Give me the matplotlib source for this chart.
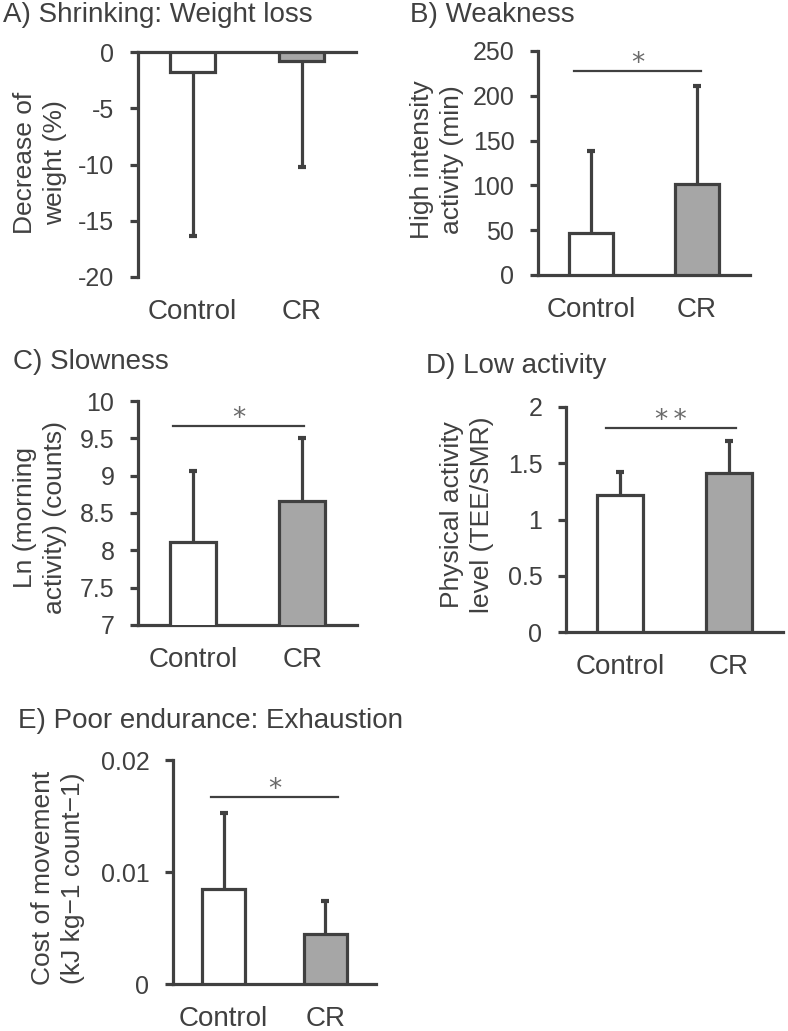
import matplotlib
matplotlib.use("Agg")
import matplotlib.pyplot as plt
from matplotlib.ticker import FormatStrFormatter

plt.rcParams['font.family'] = ['Liberation Sans', 'DejaVu Sans']
plt.rcParams['axes.unicode_minus'] = False

DARK = '#404040'
GREY = '#a6a6a6'

groups = ['Control', 'CR']

# A) weight loss (%)
weight_loss = [-1.8, -0.8]
weight_loss_sd = [14.6, 9.4]
# B) high intensity activity (min)
high_activity = [47, 102]
high_activity_sd = [91, 109]
# C) Ln(morning activity)
morning_activity = [8.11, 8.66]
morning_activity_sd = [0.95, 0.85]
# D) physical activity level
pal = [1.22, 1.41]
pal_sd = [0.20, 0.29]
# E) cost of movement
cost = [0.0085, 0.0045]
cost_sd = [0.0068, 0.0029]

W, H = 788, 1031
fig = plt.figure(figsize=(W / 100, H / 100), dpi=100)


def box(left, top, right, bottom):
  return [left / W, 1 - bottom / H, (right - left) / W, (bottom - top) / H]


def panel(rect, vals, sds, ylim, yticks, fmt, title, title_xy, ylabel, ylabel_xy,
          sig=None, down=False):
  ax = fig.add_axes(rect)
  x = [0, 1]
  ax.bar(x, vals, width=0.42, color=['white', GREY], edgecolor=DARK,
         linewidth=2.3, zorder=3)
  # one-sided error bars, cap only at the far end
  sign = -1 if down else 1
  ends = [v + sign * s for v, s in zip(vals, sds)]
  ax.vlines(x, vals, ends, color=DARK, linewidth=2.3, zorder=2)
  ax.plot(x, ends, linestyle='none', marker='_', markersize=6,
          markeredgewidth=3, color=DARK, zorder=2)
  ax.set_xlim(-0.5, 1.5)
  ax.set_ylim(*ylim)
  ax.set_yticks(yticks)
  ax.yaxis.set_major_formatter(FormatStrFormatter(fmt))
  ax.set_xticks(x)
  ax.set_xticklabels(groups, fontsize=20, color=DARK)
  for s in ['right', 'top', 'bottom']:
    ax.spines[s].set_visible(False)
  base = 'top' if down else 'bottom'
  ax.spines[base].set_visible(True)
  ax.spines[base].set_color(DARK)
  ax.spines[base].set_linewidth(2.3)
  ax.spines['left'].set_color(DARK)
  ax.spines['left'].set_linewidth(2.3)
  ax.tick_params(axis='y', direction='out', length=6, width=2.3, color=DARK,
                 labelsize=18, labelcolor=DARK, pad=11)
  ax.tick_params(axis='x', length=0, pad=16)
  ax.patch.set_visible(False)
  if sig is not None:
    x0, x1, y, mark = sig
    ax.plot([x0, x1], [y, y], color=DARK, linewidth=1.6, clip_on=False)
    ax.annotate(mark, ((x0 + x1) / 2, y), xytext=(0, 5),
                textcoords='offset points', ha='center', va='center',
                fontsize=19, color='#6a6a6a', family=['DejaVu Sans'])
  fig.text(title_xy[0] / W, 1 - title_xy[1] / H, title, fontsize=20,
           color=DARK, ha='left', va='center')
  fig.text(ylabel_xy[0] / W, 1 - ylabel_xy[1] / H, ylabel, fontsize=19,
           color=DARK, ha='center', va='center', rotation=90,
           multialignment='center', linespacing=1.3)
  return ax


panel(box(138, 52, 356, 277), weight_loss, weight_loss_sd, (-20, 0),
      [0, -5, -10, -15, -20], '%g', 'A) Shrinking: Weight loss', (3, 15),
      'Decrease of\nweight (%)', (40, 163), down=True)

panel(box(538, 51, 750, 275), high_activity, high_activity_sd, (0, 250),
      [0, 50, 100, 150, 200, 250], '%g', 'B) Weakness', (410, 15),
      'High intensity\nactivity (min)', (437, 160),
      sig=(-0.16, 1.04, 228, '*'))

panel(box(138, 401, 357, 625), morning_activity, morning_activity_sd, (7, 10),
      [7, 7.5, 8, 8.5, 9, 9.5, 10], '%g', 'C) Slowness', (13, 362),
      'Ln (morning\nactivity) (counts)', (40, 517),
      sig=(-0.18, 1.02, 9.66, '*'))

panel(box(566, 407, 783, 632), pal, pal_sd, (0, 2),
      [0, 0.5, 1, 1.5, 2], '%g', 'D) Low activity', (426, 366),
      'Physical activity\nlevel (TEE/SMR)', (467, 515),
      sig=(-0.13, 1.07, 1.81, '*\u2009*'))

panel(box(173, 760, 376, 984), cost, cost_sd, (0, 0.02),
      [0, 0.01, 0.02], '%g', 'E) Poor endurance: Exhaustion', (18, 721),
      'Cost of movement\n(kJ kg\u22121 count\u22121)', (58, 878),
      sig=(-0.13, 1.13, 0.0167, '*'))

fig.savefig('out.png', dpi=100)
